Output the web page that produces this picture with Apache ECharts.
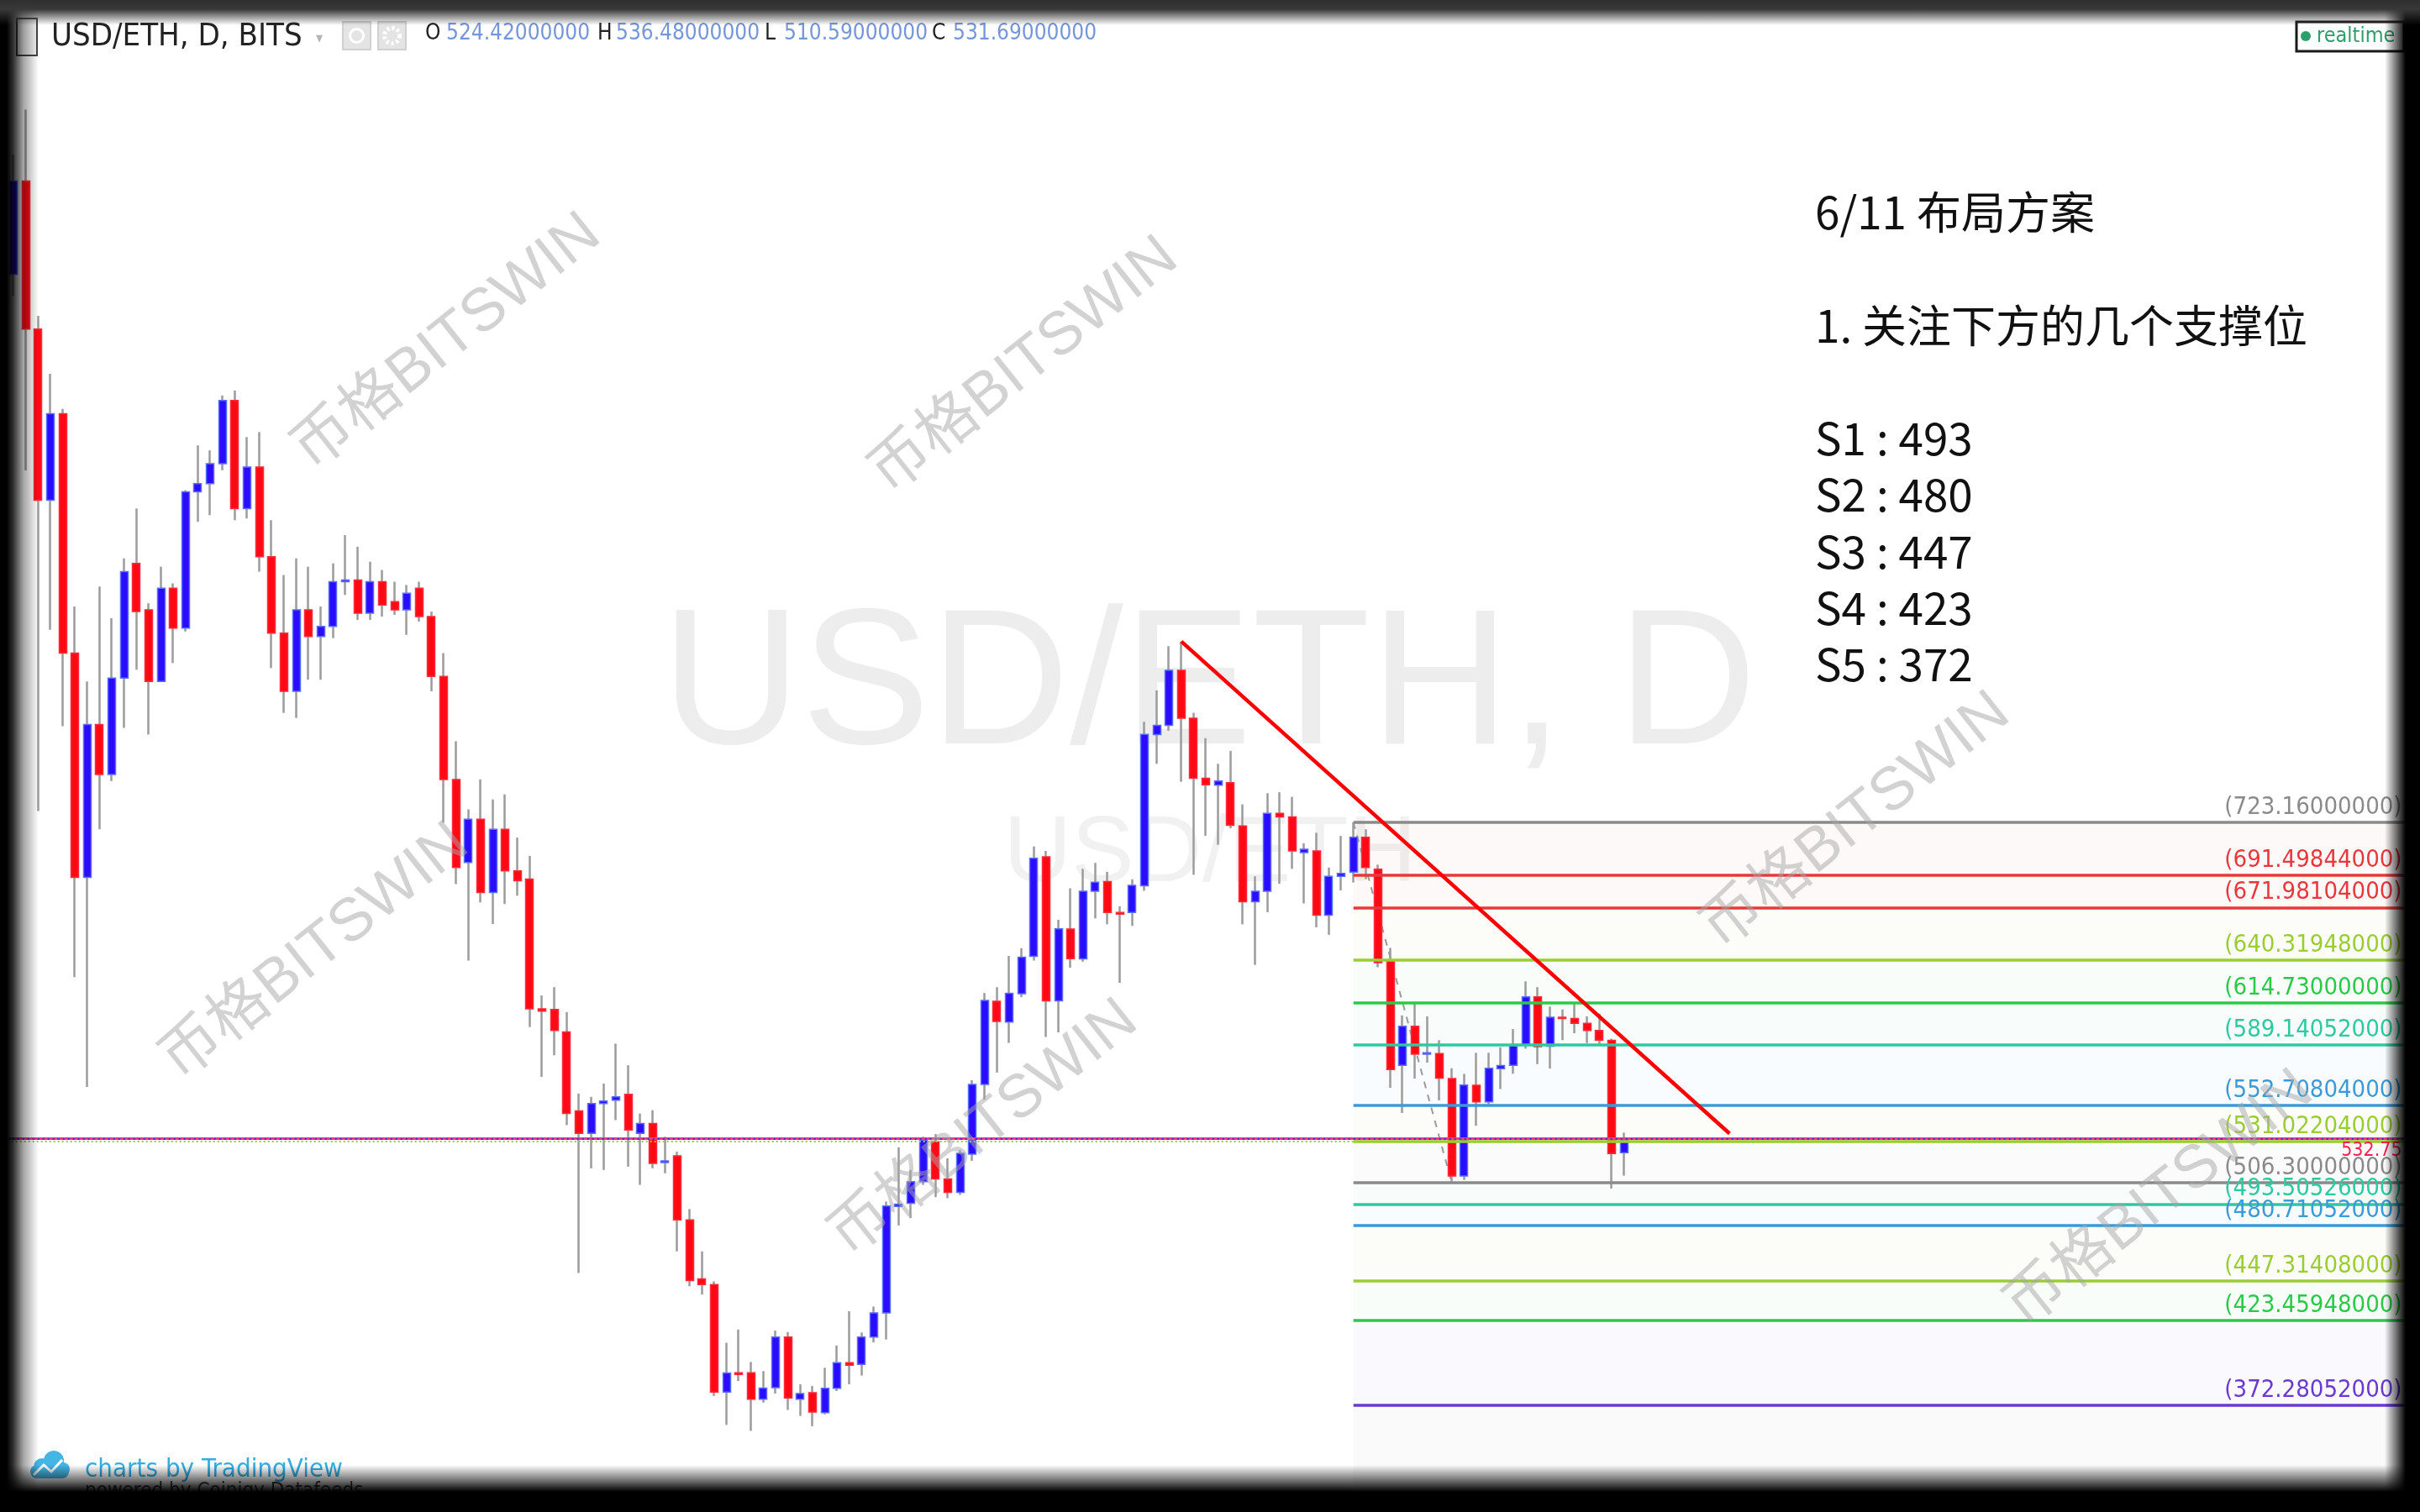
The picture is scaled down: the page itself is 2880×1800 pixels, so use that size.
<!DOCTYPE html>
<html>
<head>
<meta charset="UTF-8"/>
<script type="text/javascript" src="https://cdn.jsdelivr.net/npm/echarts@6/dist/echarts.min.js"></script>
<style>
  html, body { margin: 0; padding: 0; background: #fff; overflow: hidden; }
  #main { position: absolute; left: 0; top: 0; width: 2880px; height: 1800px; }
  /* dark photo frame round the screenshot */
  #frame {
    position: absolute; left: 0; top: 0; width: 2880px; height: 1800px; pointer-events: none;
    background:
      linear-gradient(to bottom, #2f2f2f 0px, #383838 11px, rgba(56,56,56,0) 30px),
      linear-gradient(to right, #000 0px, #000 8px, rgba(0,0,0,0.8) 16px, rgba(0,0,0,0.35) 28px, rgba(0,0,0,0) 46px),
      linear-gradient(to left, #000 0px, #000 17px, rgba(0,0,0,0.6) 27px, rgba(0,0,0,0) 42px),
      linear-gradient(to top, #000 0px, #000 24px, rgba(0,0,0,0.6) 36px, rgba(0,0,0,0) 56px);
  }
</style>
</head>
<body>
<div id="main"></div>
<div id="frame"></div>
<script type="text/javascript">
// daily candles, 2018-01-31 .. 2018-06-11
var firstDay = '2018-01-31';
var slotCount = 195;   // empty days to the right of the last candle

var opens = [1053,1109,1020,917,969,825,690,782,752,810,879,851,808,864,840,922,927,939,977,912,
  937,883,837,802,851,835,841,868,869,849,868,856,851,864,847,811,749,699,725,681,
  719,694,689,611,610.6,597,549.5,536,554,556,559.5,536,542,518.5,522.5,484,448.5,445,380.4,392,
  392,376,383,413.5,376,380,368,382.6,398,397,413.5,428,492,494,507,531,508.6,500.5,523.5,565.5,
  615.5,603,620,642.5,702.4,615.8,659,641,681.7,687.5,669,669,685,776,781.5,814.7,785.8,749.7,745.5,747,
  721,675.4,681.7,728.6,726.5,705,706,667.3,690.7,693.2,714.2,695,639.5,577,600.5,583.7,584,569,510.4,565,
  555,575,577,589.5,618.2,588.5,605.9,605.1,602.2,598,592,524.42];
var closes = [1109,1020,917,969,825,690,782,752,810,874,850,808,864,840,922,927,939,977,912,937,
  883,837,802,851,835,841,868,869,849,868,854,851,861,847,811,749,696,725,681,719,
  694,688,611,609.6,598,548,536,554,555.5,558,538,542,518,519.5,484,447.5,445,380.4,391.8,391,
  376,382.8,413.5,376.8,379.5,368.3,382.6,398.1,396.5,413.5,428,492.3,493.5,507,532,508.6,500.5,524,565.5,616,
  603.4,620.3,642,701.5,615.8,659.1,641.1,681.7,687.1,669,668,685.3,776.1,781.5,814.7,785.8,749.7,745.8,748,721.4,
  675.4,681.7,728.6,726.5,706,707,667.3,690.7,692.5,714.2,696,638.7,574.4,600.5,583.7,584.5,569.3,510.4,565.1,555,
  575.2,576.8,588.7,618.2,588.2,605.9,605.1,602.2,598,592.1,523.9,531.69];
var lows = [1040,935,730,839,781,630,564,719,748,780,815,776,808,819,838,904,908,935,905,906,
  874,816,789,786,809,809,834,860,845,845,847,848,836,844,802,723,686,640,675,662,
  674,679,600,570,583,541,452,515,514,544,516,505,515,512,465,444,439,378,360.6,387,
  357,374,379.5,369.6,366,359.8,367,381,385,390.3,410.2,412,480.6,485,505,497.7,497,499,519.5,556.4,
  572.6,590.5,618,640,594,596.8,635.7,639.3,665.4,661.8,626.6,660.9,682,758.4,778.3,747.6,691.6,715.1,709.7,719.6,
  661.8,637.4,669.1,686.2,695.2,674.4,660,655.5,682.2,687,689,636,563.4,548.3,569,578.6,555.9,506.3,508,540.6,
  552.5,562.7,571.9,587,577.7,575,592.1,596.3,590.4,589.6,502.8,510.59];
var highs = [1125,1152,1028,993,972,853,808,865,846,882,912,855,877,867,923,950,947,980,983,955,
  958,905,872,882,877,853,879,896,889,880,875,868,866,868,850,825,772,731,749,737,
  740,714,703,619,624,609,560,558,566,590,577,548,550,534,525,490.5,465,447,410,418,
  398.5,393,417.4,416.5,385,384,395,408.4,429,416.2,431.8,495,527.6,514,534,535.6,521,526,568,620.5,
  624,642.8,647.4,708.7,706,664.5,683.5,695.2,698.8,693.4,672.7,688.9,783.7,802.6,829.2,832,789.1,773.8,758.4,766.2,
  734,690.7,740.7,741.3,738.5,710.6,716.9,696,715,723.16,719,697.7,647.6,607,615,606.4,592.1,575.2,571.8,584.5,
  584.5,587.9,598.8,627.5,624,612.3,610.6,614.8,606.4,608.1,593,536.48];

// fibonacci levels drawn from the 5/20 high to the 5/28 low
var fibStart = 109;
var fibEnd = 194.5;
var fibValues = [723.16, 691.49844, 671.98104, 640.31948, 614.73, 589.14052, 552.70804,
  531.02204, 506.3, 493.50526, 480.71052, 447.31408, 423.45948, 372.28052];
var fibColors = ['#8a8a8a', '#e8383d', '#e8383d', '#9acd32', '#2bc94a', '#2dc9a0', '#3d9ad6',
  '#9acd32', '#8a8a8a', '#2dc9a0', '#3d9ad6', '#9acd32', '#2bc94a', '#6a3ad0'];

var trendLine = [[95, 832], [139.6, 535.9]];
var fibDiagonal = [[109, 723.16], [117, 506.3]];
var lastPrice = 532.75;
var ohlcText = ['524.42000000', '536.48000000', '510.59000000', '531.69000000'];
var notes = ['6/11 布局方案', '1. 关注下方的几个支撑位', 'S1 : 493', 'S2 : 480', 'S3 : 447', 'S4 : 423', 'S5 : 372'];

var cats = [];
var d0 = new Date(firstDay + 'T00:00:00Z');
for (var i = 0; i < slotCount; i++) {
  cats.push(new Date(d0.getTime() + i * 86400000).toISOString().slice(0, 10));
}

var wickData = opens.map(function (o, i) { return [o, closes[i], lows[i], highs[i]]; });
var bodyData = opens.map(function (o, i) {
  var c = closes[i];
  return [o, c, Math.min(o, c), Math.max(o, c)];
});

var zones = [];
var fibLines = [];
for (var k = 0; k < fibValues.length; k++) {
  var v = fibValues[k];
  fibLines.push([
    { coord: [fibStart, v], lineStyle: { color: fibColors[k], width: 3.5, type: 'solid' },
      label: { show: true, position: 'insideEndTop', distance: 3, formatter: '(' + v.toFixed(8) + ')',
               color: fibColors[k], fontSize: 29, fontFamily: '"DejaVu Sans Condensed", "DejaVu Sans", sans-serif' } },
    { coord: [fibEnd, v] }
  ]);
  if (k < fibValues.length - 1) {
    zones.push([
      { coord: [fibStart, v], itemStyle: { color: fibColors[k + 1], opacity: 0.03 } },
      { coord: [fibEnd, fibValues[k + 1]] }
    ]);
  }
}
zones.push([
  { coord: [fibStart, fibValues[fibValues.length - 1]], itemStyle: { color: '#9e9e9e', opacity: 0.05 } },
  { coord: [fibEnd, 308.2] }
]);

var wmFont = '72px "Liberation Sans", "Noto Sans CJK SC", sans-serif';
var wmSpots = [[532, 408], [1219, 436], [375, 1134], [1171, 1344], [2209, 978], [2570, 1428]];

function txt(x, y, s, font, fill, align, z) {
  return { type: 'text', x: x, y: y, z: z || 100, silent: true,
    style: { text: s, font: font, fill: fill, textAlign: align || 'left', align: align || 'left',
             textVerticalAlign: 'middle', verticalAlign: 'middle' } };
}

var graphics = [];
// big symbol watermark behind the candles
graphics.push(txt(1439, 822, 'USD/ETH, D', '230px "Liberation Sans", sans-serif', 'rgba(0,0,0,0.07)', 'center', -5));
graphics.push(txt(1440, 1018, 'USD/ETH', '112px "Liberation Sans", sans-serif', 'rgba(0,0,0,0.055)', 'center', -5));
// header
var hdFont = '"DejaVu Sans Condensed", "Liberation Sans Narrow", sans-serif';
graphics.push({ type: 'rect', z: 100, silent: true, shape: { x: 20, y: 22, width: 24, height: 44 },
  style: { fill: '#f4f4f4', stroke: '#444', lineWidth: 2 } });
graphics.push(txt(61, 44, 'USD/ETH, D, BITS', '38px ' + hdFont, '#222'));
graphics.push(txt(376, 46, '▾', '18px ' + hdFont, '#b5b5b5'));
graphics.push({ type: 'rect', z: 100, silent: true, shape: { x: 408, y: 26, width: 33, height: 33 },
  style: { fill: '#e4e4e4', stroke: '#d0d0d0', lineWidth: 2 } });
graphics.push({ type: 'circle', z: 101, silent: true, shape: { cx: 424.5, cy: 42.5, r: 8 },
  style: { fill: 'none', stroke: '#fff', lineWidth: 3 } });
graphics.push({ type: 'rect', z: 100, silent: true, shape: { x: 450, y: 26, width: 33, height: 33 },
  style: { fill: '#e4e4e4', stroke: '#d0d0d0', lineWidth: 2 } });
graphics.push({ type: 'circle', z: 101, silent: true, shape: { cx: 466.5, cy: 42.5, r: 9 },
  style: { fill: 'none', stroke: '#fff', lineWidth: 5, lineDash: [3, 3] } });
var ohlcX = [[506, 531], [711, 733], [910, 933], [1109, 1134]];
['O', 'H', 'L', 'C'].forEach(function (s, i) {
  graphics.push(txt(ohlcX[i][0], 40, s, '26px ' + hdFont, '#222'));
  graphics.push(txt(ohlcX[i][1], 40, ohlcText[i], '26px ' + hdFont, '#7596d8'));
});
// realtime badge
graphics.push({ type: 'rect', z: 100, silent: true, shape: { x: 2733, y: 26, width: 128, height: 35 },
  style: { fill: '#fff', stroke: '#1a1a1a', lineWidth: 3 } });
graphics.push({ type: 'circle', z: 101, silent: true, shape: { cx: 2744, cy: 43, r: 6 }, style: { fill: '#2e9e6b' } });
graphics.push(txt(2757, 43, 'realtime', '25px ' + hdFont, '#2e9e6b'));
// notes
var noteFont = '53px "Noto Sans CJK SC", sans-serif';
var noteY = [253, 388, 522, 589, 657, 724, 791];
notes.forEach(function (s, i) { graphics.push(txt(2160, noteY[i], s, noteFont, '#111')); });
// footer
graphics.push({ type: 'group', z: 100, silent: true, children: [
  { type: 'rect', shape: { x: 36, y: 1744, width: 46, height: 16, r: 8 }, style: { fill: '#45b5e6' } },
  { type: 'circle', shape: { cx: 50, cy: 1746, r: 10 }, style: { fill: '#45b5e6' } },
  { type: 'circle', shape: { cx: 64, cy: 1739, r: 12 }, style: { fill: '#45b5e6' } },
  { type: 'circle', shape: { cx: 75, cy: 1749, r: 8 }, style: { fill: '#45b5e6' } },
  { type: 'polyline', shape: { points: [[40, 1756], [52, 1744], [61, 1752], [74, 1738]] },
    style: { stroke: '#fff', lineWidth: 3, fill: 'none' } }
] });
graphics.push(txt(101, 1750, 'charts by TradingView', '31px ' + hdFont, '#33aee3'));
graphics.push(txt(101, 1776, 'powered by Coinigy Datafeeds', '24px ' + hdFont, '#444'));
// BITSWIN watermarks over everything
wmSpots.forEach(function (p) {
  graphics.push({ type: 'text', x: p[0], y: p[1], rotation: 0.672, z: 120, silent: true,
    style: { text: '币格BITSWIN', font: wmFont, fill: 'rgba(165,165,165,0.5)',
             textAlign: 'center', align: 'center', textVerticalAlign: 'middle', verticalAlign: 'middle' } });
});

var myChart = echarts.init(document.getElementById('main'), null, { renderer: 'canvas' });
var option = {
  animation: false,
  backgroundColor: '#ffffff',
  grid: { left: 8.7, right: 18.45, top: 0, bottom: 0 },
  xAxis: [
    { type: 'category', data: cats, boundaryGap: true, show: false },
    { type: 'value', min: -0.5, max: 194.5, show: false }
  ],
  yAxis: { type: 'value', min: 308.2, max: 1217.98, show: false },
  graphic: graphics,
  series: [
    {
      type: 'line', xAxisIndex: 1, data: [], silent: true, z: 1,
      markArea: { silent: true, data: zones },
      markLine: { silent: true, symbol: ['none', 'none'], emphasis: { disabled: true }, data: fibLines }
    },
    {
      type: 'line', xAxisIndex: 1, data: fibDiagonal, symbol: 'none', silent: true, z: 1,
      lineStyle: { color: '#9a9a9a', width: 2, type: [8, 8] }
    },
    {
      name: 'wick', type: 'candlestick', data: wickData, barWidth: 1, silent: true, z: 2,
      itemStyle: { color: '#9b9b9b', color0: '#9b9b9b', borderColor: '#9b9b9b', borderColor0: '#9b9b9b',
                   borderColorDoji: '#9b9b9b', borderWidth: 2.5 }
    },
    {
      name: 'body', type: 'candlestick', data: bodyData, barWidth: 9.5, silent: true, z: 3,
      itemStyle: { color: '#2a0dff', color0: '#ff0a14', borderColor: '#5b6dff', borderColor0: '#ff2a3a',
                   borderColorDoji: '#ff2a3a', borderWidth: 1.5 }
    },
    {
      type: 'line', xAxisIndex: 1, data: trendLine, symbol: 'none', silent: true, z: 5,
      lineStyle: { color: '#ff0000', width: 4.5 }
    },
    {
      type: 'line', xAxisIndex: 1, data: [], silent: true, z: 6,
      markLine: {
        silent: true, symbol: ['none', 'none'], emphasis: { disabled: true },
        data: [
          { yAxis: lastPrice, lineStyle: { color: '#f2368f', width: 3, type: 'solid' },
            label: { show: true, position: 'insideEndBottom', formatter: String(lastPrice), color: '#ff1f50',
                     fontSize: 23, fontFamily: '"DejaVu Sans Condensed", sans-serif', distance: 3 } },
          { yAxis: lastPrice, lineStyle: { color: '#3a2fd0', width: 2, type: [2, 4] }, label: { show: false } },
          { yAxis: 531.1, lineStyle: { color: '#9acd32', width: 2, type: [2, 3] }, label: { show: false } }
        ]
      }
    }
  ]
};
myChart.setOption(option);
</script>
</body>
</html>
